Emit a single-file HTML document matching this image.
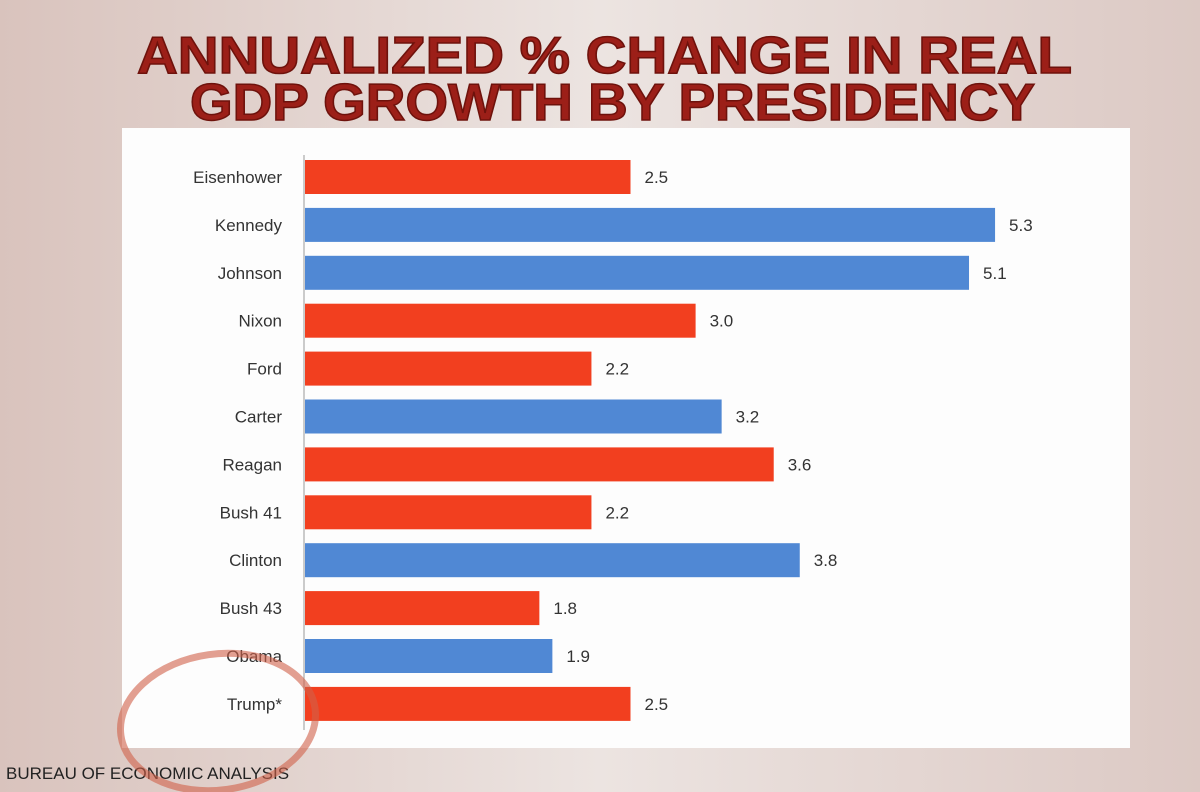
<!DOCTYPE html>
<html><head><meta charset="utf-8"><style>
html,body{margin:0;padding:0;width:1200px;height:792px;overflow:hidden;background:#e9dcd8;font-family:"Liberation Sans",sans-serif}
</style></head><body>
<svg width="1200" height="792" xmlns="http://www.w3.org/2000/svg">
<defs><linearGradient id="bg" x1="0" x2="1" y1="0" y2="0"><stop offset="0" stop-color="#d9c3bd"/><stop offset="0.5" stop-color="#ece4e1"/><stop offset="1" stop-color="#dcc9c4"/></linearGradient></defs>
<rect width="1200" height="792" fill="url(#bg)"/>
<g font-family="Liberation Sans, sans-serif" font-weight="bold" fill="#9c1f18" stroke="#6e120c" stroke-width="1.5">
<text x="137" y="73" font-size="52" textLength="935" lengthAdjust="spacingAndGlyphs">ANNUALIZED % CHANGE IN REAL</text>
<text x="190" y="120" font-size="52" textLength="845" lengthAdjust="spacingAndGlyphs">GDP GROWTH BY PRESIDENCY</text>
</g>
<rect x="122" y="128" width="1008" height="620" fill="#fdfdfd"/>
<g id="grid"></g>
<line x1="304" y1="155" x2="304" y2="730" stroke="#999" stroke-width="1"/>
<g id="bars"></g>
<text x="6" y="779" font-size="17" fill="#222" font-family="Liberation Sans, sans-serif">BUREAU OF ECONOMIC ANALYSIS</text>
<ellipse cx="218" cy="722" rx="98" ry="68" fill="none" stroke="#d0604a" stroke-opacity="0.6" stroke-width="7" transform="rotate(-8 218 722)"/>
</svg>
<script>
const categories=["Eisenhower","Kennedy","Johnson","Nixon","Ford","Carter","Reagan","Bush 41","Clinton","Bush 43","Obama","Trump*"];
const values=[2.5,5.3,5.1,3.0,2.2,3.2,3.6,2.2,3.8,1.8,1.9,2.5];
const labels=["2.5","5.3","5.1","3.0","2.2","3.2","3.6","2.2","3.8","1.8","1.9","2.5"];
const parties=["R","D","D","R","R","D","R","R","D","R","D","R"];
const x0=305,pxPer=130.2,y0=177,step=47.9,bh=34;
const xs=v=>x0+v*pxPer, ys=i=>y0+i*step;
const NS="http://www.w3.org/2000/svg";
const g=document.getElementById('bars');
categories.forEach((c,i)=>{
  const r=document.createElementNS(NS,'rect');
  r.setAttribute('x',x0);r.setAttribute('y',ys(i)-bh/2);
  r.setAttribute('width',xs(values[i])-x0);r.setAttribute('height',bh);
  r.setAttribute('fill',parties[i]==="R"?"#f23f1f":"#5088d4");
  
  
  g.appendChild(r);
  const t=document.createElementNS(NS,'text');
  t.setAttribute('x',282);t.setAttribute('y',ys(i)+6);t.setAttribute('text-anchor','end');
  t.setAttribute('font-size','17');t.setAttribute('fill','#333');t.textContent=c;
  
  
  g.appendChild(t);
  const v=document.createElementNS(NS,'text');
  v.setAttribute('x',xs(values[i])+14);v.setAttribute('y',ys(i)+6);
  v.setAttribute('font-size','17');v.setAttribute('fill','#333');v.textContent=labels[i];
  
  
  g.appendChild(v);
});
</script>
</body></html>
